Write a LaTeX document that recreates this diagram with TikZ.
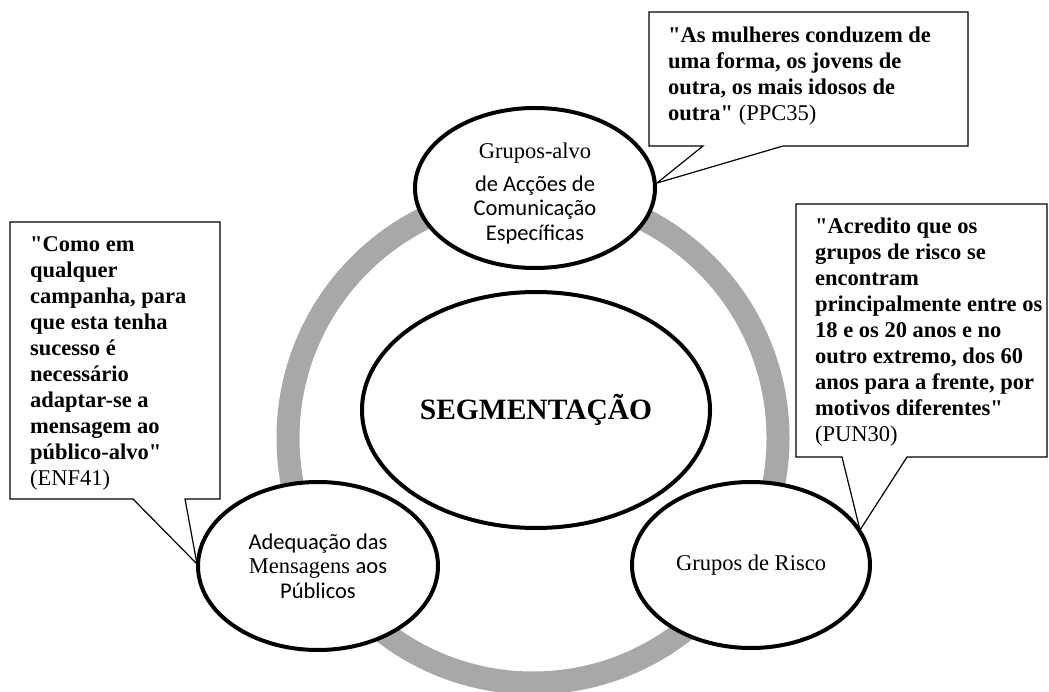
\documentclass[tikz,border=0pt]{standalone}
\usepackage{fontspec}
\setmainfont{Liberation Serif}
\newfontfamily\calfont{Carlito}
\usetikzlibrary{shapes.geometric}
\definecolor{ringgray}{HTML}{A8A8A8}
\newcommand{\dq}{\textquotedbl}
\newcommand{\firstline}{\rule{0pt}{16pt}}
\tikzset{
  bubble/.style={ellipse, draw=black, line width=4pt, fill=white, inner sep=0pt, align=center,
    font=\fontsize{22.5}{24.5}\selectfont},
  calloutline/.style={draw=black, line width=1.2pt, fill=white, line join=miter},
  quote/.style={anchor=north west, inner sep=0pt, align=left,
    font=\fontsize{22.5}{26}\selectfont}
}
\begin{document}
\begin{tikzpicture}[x=1pt, y=-1pt]
\useasboundingbox (0,0) rectangle (1049,692);
% grey cycle behind the bubbles
\draw[ringgray, line width=23pt] (533,438) circle [radius=245pt];

% centre and satellite bubbles
\node[bubble, minimum width=348pt, minimum height=236pt] (seg) at (536,410)
  {\fontsize{29.5}{32}\selectfont\bfseries SEGMENTAÇÃO};
\node[bubble, minimum width=240pt, minimum height=160pt] (alvo) at (535,188)
  {\rule{0pt}{26pt}Grupos-alvo\\[8.5pt]{\calfont de Acções de}\\{\calfont Comunicação}\\{\calfont Específicas}};
\node[bubble, minimum width=240pt, minimum height=168pt] (adeq) at (318,566)
  {{\calfont Adequação das}\\Mensagens {\calfont aos}\\{\calfont Públicos}};
\node[bubble, minimum width=238pt, minimum height=166pt] (risco) at (751,565)
  {Grupos de Risco};

% callout tips resting on the bubbles
\coordinate (tipA) at (alvo.east |- 0,183);
\coordinate (tipB) at (197,564);
\coordinate (tipC) at (860,530);

% callout: top
\draw[calloutline] (649,12) -- (968,12) -- (968,146) -- (783,146) -- (tipA)
  -- (703,146) -- (649,146) -- cycle;
\node[quote] (q1) at (668,26)
  {\firstline\textbf{\dq As mulheres conduzem de}\\\textbf{uma forma, os jovens de}\\\textbf{outra, os mais idosos de}\\\textbf{outra\dq} (PPC35)};

% callout: left
\draw[calloutline] (10,222) -- (220,222) -- (220,499) -- (185,499) -- (tipB)
  -- (133,499) -- (10,499) -- cycle;
\node[quote] (q2) at (30,235)
  {\firstline\textbf{\dq Como em}\\\textbf{qualquer}\\\textbf{campanha, para}\\\textbf{que esta tenha}\\\textbf{sucesso é}\\\textbf{necessário}\\\textbf{adaptar-se a}\\\textbf{mensagem ao}\\\textbf{público-alvo\dq}\\(ENF41)};

% callout: right
\draw[calloutline] (796,204) -- (1047,204) -- (1047,457) -- (907,457) -- (tipC)
  -- (842,457) -- (796,457) -- cycle;
\node[quote] (q3) at (815,217)
  {\firstline\textbf{\dq Acredito que os}\\\textbf{grupos de risco se}\\\textbf{encontram}\\\textbf{principalmente entre os}\\\textbf{18 e os 20 anos e no}\\\textbf{outro extremo, dos 60}\\\textbf{anos para a frente, por}\\\textbf{motivos diferentes\dq}\\(PUN30)};
\end{tikzpicture}
\end{document}
